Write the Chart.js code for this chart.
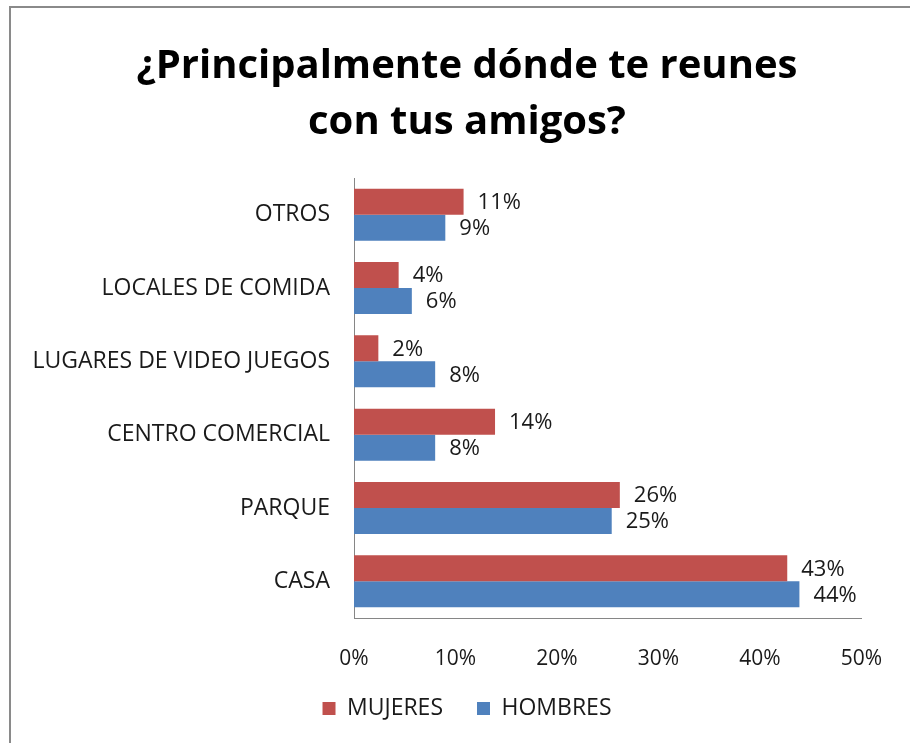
<!DOCTYPE html>
<html>
<head>
<meta charset="utf-8">
<script src="https://cdn.jsdelivr.net/npm/chart.js@4/dist/chart.umd.min.js"></script>
<style>
    html, body { margin: 0; padding: 0; background: #fff; overflow: hidden; }
    .frame { position: absolute; left: 9px; top: 6px; width: 1000px; height: 1000px; border: 2px solid #8a8a8a; }
    .wrap { position: absolute; left: 0; top: 0; width: 910px; height: 743px; }
</style>
</head>
<body>
<div class="frame"></div>
<div class="wrap"><canvas id="chart" width="910" height="743"></canvas></div>
<script>
const categories = ['OTROS', 'LOCALES DE COMIDA', 'LUGARES DE VIDEO JUEGOS', 'CENTRO COMERCIAL', 'PARQUE', 'CASA'];
const mujeres = [10.8, 4.4, 2.4, 13.9, 26.2, 42.7];
const hombres = [9.0, 5.7, 8.0, 8.0, 25.4, 43.9];
const xTicks = [0, 10, 20, 30, 40, 50];

const redColor = '#C0504D';
const blueColor = '#4F81BD';
const axisColor = '#868686';
const textColor = '#1a1a1a';
const fontFamily = '"Open Sans", sans-serif';

// value labels at the end of each bar
const valueLabels = {
    id: 'valueLabels',
    afterDatasetsDraw(chart) {
        const ctx = chart.ctx;
        ctx.save();
        ctx.font = `22px ${fontFamily}`;
        ctx.fillStyle = textColor;
        ctx.textAlign = 'left';
        ctx.textBaseline = 'middle';
        chart.data.datasets.forEach((ds, i) => {
            chart.getDatasetMeta(i).data.forEach((bar, j) => {
                ctx.fillText(`${Math.round(ds.data[j])}%`, bar.x + 14, bar.y + 1);
            });
        });
        ctx.restore();
    }
};

// let tick labels spill outside their boxes (long categories, low % ticks)
const widenLabels = {
    id: 'widenLabels',
    afterLayout(chart) {
        chart.scales.y.left = 0;
        chart.scales.x.bottom = chart.height;
    }
};

new Chart(document.getElementById('chart'), {
    type: 'bar',
    data: {
        labels: categories,
        datasets: [
            { label: 'MUJERES', data: mujeres, backgroundColor: redColor },
            { label: 'HOMBRES', data: hombres, backgroundColor: blueColor }
        ]
    },
    options: {
        indexAxis: 'y',
        responsive: false,
        animation: false,
        layout: { padding: { left: 64, right: 40, top: 0, bottom: 13 } },
        datasets: { bar: { categoryPercentage: 0.71, barPercentage: 1.0 } },
        plugins: {
            title: {
                display: true,
                text: ['¿Principalmente dónde te reunes', 'con tus amigos?'],
                color: '#000',
                font: { family: fontFamily, size: 40, weight: 'bold', lineHeight: 1.4 },
                padding: { top: 39, bottom: 27 }
            },
            legend: {
                position: 'bottom',
                labels: {
                    boxWidth: 13,
                    boxHeight: 13,
                    padding: 34,
                    color: textColor,
                    font: { family: fontFamily, size: 23 },
                    generateLabels: (chart) => chart.data.datasets.map((ds, i) => ({
                        text: ds.label,
                        fillStyle: ds.backgroundColor,
                        strokeStyle: ds.backgroundColor,
                        lineWidth: 0,
                        datasetIndex: i,
                        fontColor: textColor
                    }))
                }
            },
            tooltip: { enabled: false }
        },
        scales: {
            x: {
                min: 0,
                max: 50,
                afterBuildTicks: (scale) => { scale.ticks = xTicks.map((v) => ({ value: v })); },
                afterFit: (scale) => { scale.height = 45; },
                grid: { display: false, drawTicks: false },
                border: { display: true, color: axisColor, width: 1 },
                ticks: {
                    padding: 28,
                    color: textColor,
                    font: { family: fontFamily, size: 21 },
                    callback: (v) => `${v}%`
                }
            },
            y: {
                afterFit: (scale) => { scale.width = 290; },
                grid: { display: false, drawTicks: false },
                border: { display: true, color: axisColor, width: 1 },
                ticks: {
                    padding: 24,
                    color: textColor,
                    font: { family: fontFamily, size: 23 }
                }
            }
        }
    },
    plugins: [valueLabels, widenLabels]
});
</script>
</body>
</html>
